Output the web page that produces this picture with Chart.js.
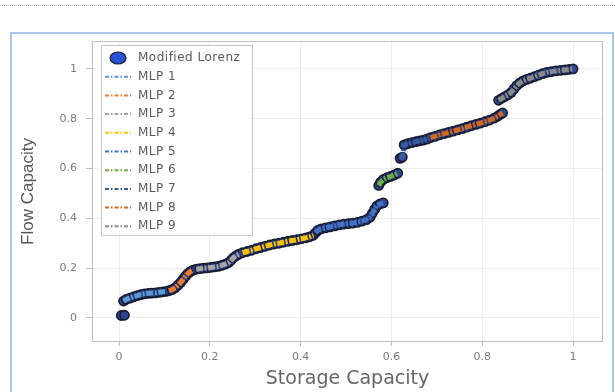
<!DOCTYPE html>
<html>
<head>
<meta charset="utf-8">
<script src="https://cdn.jsdelivr.net/npm/chart.js@4"></script>
<style>
  body { margin: 0; background: #fff; }
  #wrap { position: relative; width: 615px; height: 392px; overflow: hidden; }
  #dots { position: absolute; left: 0; top: 5px; width: 615px; border-top: 1px dotted #b0b0b0; }
  #frame { position: absolute; left: 10px; top: 32px; width: 600px; height: 380px; border: 2px solid #a9c8e8; }
  canvas { position: absolute; left: 0; top: 0; }
</style>
</head>
<body>
<div id="wrap">
  <div id="dots"></div>
  <div id="frame"></div>
  <canvas id="flowChart" width="615" height="392"></canvas>
</div>
<script>
// values
const xTicks = [0, 0.2, 0.4, 0.6, 0.8, 1];
const yTicks = [0, 0.2, 0.4, 0.6, 0.8, 1];

const startX = [0.005, 0.012];
const startY = [0.010, 0.011];

const mlp1X = [0.010, 0.016, 0.024, 0.032, 0.040, 0.048, 0.056, 0.064, 0.072, 0.080, 0.088, 0.096, 0.104];
const mlp1Y = [0.068, 0.075, 0.080, 0.085, 0.090, 0.094, 0.097, 0.099, 0.100, 0.101, 0.103, 0.105, 0.107];

const mlp2X = [0.110, 0.117, 0.124, 0.130, 0.136, 0.141, 0.146, 0.151, 0.157, 0.163];
const mlp2Y = [0.110, 0.114, 0.122, 0.132, 0.143, 0.155, 0.167, 0.177, 0.186, 0.192];

const mlp3X = [0.170, 0.178, 0.186, 0.194, 0.202, 0.210, 0.218, 0.226, 0.234, 0.241, 0.247, 0.252, 0.258, 0.264];
const mlp3Y = [0.196, 0.198, 0.200, 0.201, 0.203, 0.205, 0.207, 0.211, 0.216, 0.222, 0.232, 0.242, 0.250, 0.256];

const mlp4X = [0.272, 0.282, 0.292, 0.302, 0.312, 0.322, 0.332, 0.342, 0.352, 0.362, 0.372, 0.382, 0.392, 0.402, 0.412, 0.420, 0.428];
const mlp4Y = [0.262, 0.267, 0.272, 0.278, 0.283, 0.288, 0.293, 0.297, 0.300, 0.304, 0.308, 0.311, 0.314, 0.318, 0.322, 0.326, 0.332];

const mlp5X = [0.433, 0.438, 0.445, 0.455, 0.465, 0.475, 0.485, 0.495, 0.505, 0.515, 0.525, 0.535, 0.545, 0.553, 0.558, 0.563, 0.568, 0.575, 0.582];
const mlp5Y = [0.342, 0.352, 0.358, 0.362, 0.366, 0.370, 0.374, 0.377, 0.379, 0.381, 0.384, 0.389, 0.395, 0.405, 0.420, 0.436, 0.450, 0.458, 0.462];

const mlp6X = [0.572, 0.576, 0.582, 0.590, 0.598, 0.606, 0.614];
const mlp6Y = [0.532, 0.545, 0.556, 0.563, 0.568, 0.574, 0.581];

const mlp7X = [0.619, 0.624, 0.628, 0.636, 0.645, 0.654, 0.662, 0.670, 0.678];
const mlp7Y = [0.641, 0.646, 0.695, 0.700, 0.704, 0.708, 0.711, 0.714, 0.718];

const mlp8X = [0.686, 0.696, 0.706, 0.716, 0.726, 0.736, 0.746, 0.756, 0.766, 0.776, 0.786, 0.796, 0.806, 0.816, 0.826, 0.834, 0.840, 0.845];
const mlp8Y = [0.724, 0.729, 0.735, 0.740, 0.745, 0.750, 0.755, 0.760, 0.766, 0.772, 0.777, 0.782, 0.788, 0.794, 0.802, 0.810, 0.818, 0.823];

const mlp9X = [0.836, 0.843, 0.850, 0.857, 0.864, 0.870, 0.876, 0.883, 0.890, 0.898, 0.906, 0.915, 0.924, 0.933, 0.942, 0.952, 0.962, 0.972, 0.982, 0.991, 1.000];
const mlp9Y = [0.874, 0.882, 0.889, 0.896, 0.906, 0.920, 0.933, 0.944, 0.952, 0.958, 0.963, 0.969, 0.975, 0.981, 0.986, 0.989, 0.992, 0.994, 0.996, 0.998, 1.000];

const mlpLabels = ['MLP 1', 'MLP 2', 'MLP 3', 'MLP 4', 'MLP 5', 'MLP 6', 'MLP 7', 'MLP 8', 'MLP 9'];
const mlpColors = ['#5B9BD5', '#ED7D31', '#A5A5A5', '#FFC000', '#4472C4', '#70AD47', '#3a5a9a', '#D2691E', '#8a8a8a'];

const segX = [mlp1X, mlp2X, mlp3X, mlp4X, mlp5X, mlp6X, mlp7X, mlp8X, mlp9X];
const segY = [mlp1Y, mlp2Y, mlp3Y, mlp4Y, mlp5Y, mlp6Y, mlp7Y, mlp8Y, mlp9Y];

const lorenzFill = '#2e4690';
const lorenzEdge = '#151b30';
const legendMarker = '#2c50d6';
const lineDash = [7, 1.5, 2, 1.5];
const legendDash = [4, 2, 1.5, 2];

function toPoints(xs, ys) {
    return xs.map((x, i) => ({ x: x, y: ys[i] }));
}

const datasets = [{
    label: 'Modified Lorenz',
    data: toPoints(startX.concat(...segX), startY.concat(...segY)),
    order: 10,
    showLine: false,
    pointRadius: 4.6,
    pointBorderWidth: 1.6,
    backgroundColor: lorenzFill,
    borderColor: lorenzEdge
}];

mlpLabels.forEach((label, i) => {
    datasets.push({
        label: label,
        data: toPoints(segX[i], segY[i]),
        order: 0,
        showLine: true,
        borderColor: mlpColors[i],
        borderWidth: 5,
        borderDash: lineDash,
        pointRadius: 0,
        fill: false
    });
});

// grey frame round the plot area
const plotFrame = {
    id: 'plotFrame',
    beforeDatasetsDraw(chart) {
        const { ctx, chartArea: a } = chart;
        ctx.save();
        ctx.strokeStyle = '#bdbdbd';
        ctx.lineWidth = 1;
        ctx.strokeRect(a.left + 0.5, a.top + 0.5, a.right - a.left - 1, a.bottom - a.top - 1);
        ctx.restore();
    }
};

// boxed legend inside the plot, top left
const boxLegend = {
    id: 'boxLegend',
    afterDraw(chart) {
        const { ctx, chartArea: a } = chart;
        const left = a.left + 9, top = a.top + 4, w = 151, h = 190, row = 18.7;
        ctx.save();
        ctx.fillStyle = '#fff';
        ctx.fillRect(left, top, w, h);
        ctx.strokeStyle = '#c6c6c6';
        ctx.lineWidth = 1;
        ctx.strokeRect(left + 0.5, top + 0.5, w, h);
        ctx.font = '12px "DejaVu Sans"';
        ctx.letterSpacing = '0.5px';
        ctx.textBaseline = 'middle';
        chart.data.datasets.forEach((ds, i) => {
            const y = top + 13 + i * row;
            if (i === 0) {
                ctx.beginPath();
                ctx.ellipse(left + 17, y, 8, 6, 0, 0, Math.PI * 2);
                ctx.fillStyle = legendMarker;
                ctx.fill();
                ctx.lineWidth = 1.2;
                ctx.strokeStyle = ds.borderColor;
                ctx.stroke();
            } else {
                ctx.beginPath();
                ctx.setLineDash(legendDash);
                ctx.moveTo(left + 4, y);
                ctx.lineTo(left + 30, y);
                ctx.lineWidth = 2;
                ctx.strokeStyle = ds.borderColor;
                ctx.stroke();
                ctx.setLineDash([]);
            }
            ctx.fillStyle = '#5a5a5a';
            ctx.fillText(ds.label, left + 37, y);
        });
        ctx.restore();
    }
};

new Chart(document.getElementById('flowChart'), {
    type: 'scatter',
    data: { datasets: datasets },
    plugins: [plotFrame, boxLegend],
    options: {
        responsive: false,
        animation: false,
        layout: { padding: { top: 41, right: 12, left: 0, bottom: 0 } },
        plugins: { legend: { display: false }, tooltip: { enabled: false } },
        scales: {
            x: {
                type: 'linear',
                min: -0.0595,
                max: 1.066,
                afterFit: s => { s.height = 50; },
                afterBuildTicks: s => { s.ticks = xTicks.map(v => ({ value: v })); },
                border: { display: false },
                grid: { color: 'rgba(0,0,0,0.07)', tickColor: '#bbb', tickLength: 4 },
                ticks: {
                    padding: 5,
                    color: '#7a7a7a',
                    font: { family: 'DejaVu Sans', size: 11 },
                    callback: v => String(+v.toFixed(1))
                },
                title: {
                    display: true,
                    text: 'Storage Capacity',
                    color: '#666',
                    font: { family: 'DejaVu Sans', size: 19 },
                    padding: { top: 0, bottom: 2 }
                }
            },
            y: {
                type: 'linear',
                min: -0.0964,
                max: 1.112,
                afterFit: s => { s.width = 92; },
                afterBuildTicks: s => { s.ticks = yTicks.map(v => ({ value: v })); },
                border: { display: false },
                grid: { color: 'rgba(0,0,0,0.07)', tickColor: '#bbb', tickLength: 6 },
                ticks: {
                    padding: 9,
                    color: '#7a7a7a',
                    font: { family: 'DejaVu Sans', size: 11 },
                    callback: v => String(+v.toFixed(1))
                },
                title: {
                    display: true,
                    text: 'Flow Capacity',
                    color: '#555',
                    font: { family: 'Liberation Sans', size: 17 },
                    padding: { top: 18, bottom: 0 }
                }
            }
        }
    }
});
</script>
</body>
</html>
